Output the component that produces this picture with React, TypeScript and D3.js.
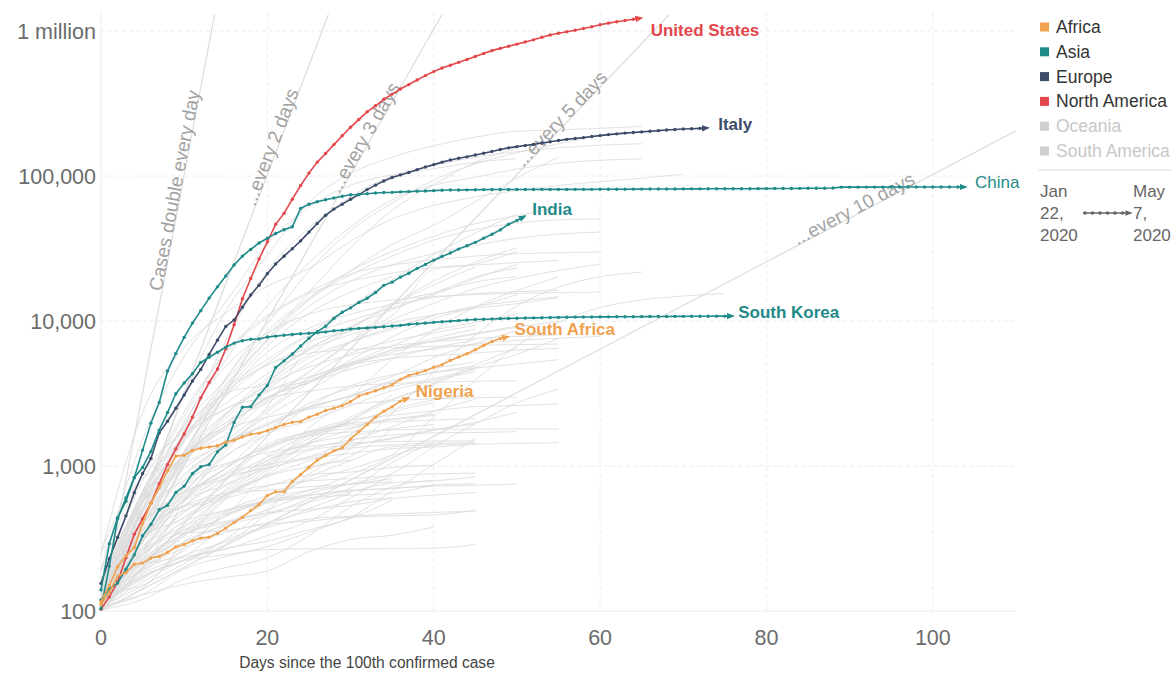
import React from 'react';
import * as d3 from 'd3';

// cumulative confirmed cases, one value per day since the 100th case
const usCases = [
  103, 125, 159, 233, 338, 433, 554, 754, 1025, 1312,
  1663, 2174, 2951, 3774, 4661, 6427, 9415, 14250, 19624, 26747,
  35206, 46442, 55231, 69194, 85991, 104686, 124665, 143025, 164620, 189618,
  216721, 245540, 277205, 304826, 337635, 367004, 397754, 427079, 459165, 492416,
  524903, 555313, 580619, 607670, 636350, 667801, 699706, 732197, 758809, 784326,
  811865, 840351, 869170, 905358, 938154, 965785, 988197, 1012582, 1039909, 1069424,
  1103461, 1132539, 1158040, 1180375, 1204351, 1228603,
];
const italyCases = [
  155, 229, 322, 453, 655, 888, 1128, 1694, 2036, 2502,
  3089, 3858, 4636, 5883, 7375, 9172, 10149, 12462, 15113, 17660,
  21157, 24747, 27980, 31506, 35713, 41035, 47021, 53578, 59138, 63927,
  69176, 74386, 80589, 86498, 92472, 97689, 101739, 105792, 110574, 115242,
  119827, 124632, 128948, 132547, 135586, 139422, 143626, 147577, 152271, 156363,
  159516, 162488, 165155, 168941, 172434, 175925, 178972, 181228, 183957, 187327,
  189973, 192994, 195351, 197675, 199414, 201505, 203591, 205463, 207428, 209328,
  210717, 211938, 213013, 214457,
];
const chinaCases = [
  140, 291, 440, 571, 830, 1287, 1975, 2744, 4515, 5974,
  7711, 9692, 11791, 14380, 17205, 20438, 24324, 28018, 31161, 34546,
  37198, 40171, 42638, 44653, 59804, 63851, 66492, 68500, 70548, 72436,
  74185, 74576, 75465, 76288, 76936, 77150, 77658, 78064, 78497, 78824,
  79251, 79824, 80026, 80151, 80270, 80409, 80552, 80651, 80695, 80735,
  80754, 80778, 80793, 80813, 80824, 80844, 80860, 80881, 80894, 80928,
  80967, 81008, 81054, 81093, 81171, 81218, 81285, 81340, 81394, 81439,
  81470, 81518, 81554, 81589, 81620, 81639, 81669, 81708, 81740, 81802,
  81865, 81907, 81953, 82052, 82160, 82249, 82295, 82341, 82692, 83760,
  83787, 83805, 83817, 83853, 83868, 83884, 83899, 83909, 83912, 83918,
  83940, 83944, 83956, 83959, 83964,
];
const indiaCases = [
  119, 142, 156, 194, 244, 330, 396, 499, 536, 657,
  727, 887, 987, 1024, 1251, 1397, 1998, 2543, 2567, 3082,
  3588, 4778, 5311, 5916, 6725, 7598, 8446, 9205, 10453, 11487,
  12322, 13430, 14352, 15722, 17615, 18539, 20080, 21370, 23077, 24530,
  26283, 27890, 29451, 31324, 33062, 34863, 37257, 39699, 42505, 46437,
  49400, 52987,
];
const southKoreaCases = [
  104, 204, 433, 602, 833, 977, 1261, 1766, 2337, 3150,
  3736, 4335, 5186, 5621, 6088, 6593, 7041, 7314, 7478, 7513,
  7755, 7869, 7979, 8086, 8162, 8236, 8320, 8413, 8565, 8652,
  8799, 8897, 8961, 9037, 9137, 9241, 9332, 9478, 9583, 9661,
  9786, 9887, 9976, 10062, 10156, 10237, 10284, 10331, 10384, 10423,
  10450, 10480, 10512, 10537, 10564, 10591, 10613, 10635, 10653, 10661,
  10674, 10683, 10694, 10702, 10708, 10718, 10728, 10738, 10752, 10761,
  10765, 10774, 10780, 10793, 10801, 10804, 10806,
];
const southAfricaCases = [
  116, 150, 202, 240, 274, 402, 554, 709, 927, 1170,
  1187, 1280, 1326, 1353, 1380, 1462, 1505, 1585, 1655, 1686,
  1749, 1845, 1934, 2003, 2028, 2173, 2272, 2415, 2506, 2605,
  2783, 3034, 3158, 3300, 3465, 3635, 3953, 4220, 4361, 4546,
  4793, 4996, 5350, 5647, 5951, 6336, 6783, 7220, 7572, 7808,
];
const nigeriaCases = [
  111, 135, 174, 184, 210, 214, 232, 238, 254, 276,
  288, 305, 318, 323, 343, 373, 407, 442, 493, 542,
  627, 665, 665, 782, 873, 981, 1095, 1182, 1273, 1337,
  1532, 1728, 1932, 2170, 2388, 2558, 2802, 2950,
];

const highlightNames = ['United States', 'Italy', 'China', 'India', 'South Korea', 'South Africa', 'Nigeria'];
const highlightRegions = ['North America', 'Europe', 'Asia', 'Asia', 'Asia', 'Africa', 'Africa'];
const highlightCases = [usCases, italyCases, chinaCases, indiaCases, southKoreaCases, southAfricaCases, nigeriaCases];

// other countries, cumulative cases sampled every 5 days since the 100th case
const otherCountryCases = [
  [120, 500, 3100, 11700, 28500, 65700, 104000, 135000, 161800, 185000, 204000, 207600, 213400, 219300],
  [130, 670, 1900, 7300, 22200, 43900, 71800, 100100, 118200, 134800, 147100, 156500, 163000, 167000],
  [100, 420, 1780, 5420, 12700, 25200, 44500, 68600, 86300, 98000, 111800, 122500, 128300, 131300],
  [116, 382, 1144, 3983, 9529, 22141, 41903, 65077, 93873, 121172, 144640, 166441, 191832],
  [191, 1529, 5698, 13531, 34109, 61049, 86306, 101790, 112261, 124375, 131744],
  [245, 2336, 6566, 11364, 17361, 23049, 35408, 50468, 62589, 71686, 79494, 85996, 91472, 96448, 103135],
  [114, 438, 1264, 3548, 7497, 15770, 32008, 57999, 87147, 124054, 155370],
  [151, 621, 1924, 3904, 8044, 14034, 22192, 33682, 45757, 66501, 97100, 135106],
  [103, 415, 1470, 4043, 8527, 14426, 22148, 30106, 38422, 46895, 53236, 60772],
  [169, 399, 1243, 3401, 7284, 13964, 20814, 28018, 36138, 42797, 47334, 49906, 50509],
  [128, 503, 1705, 3631, 7431, 12595, 18803, 24413, 29214, 33405, 37190, 39791, 41087],
  [117, 395, 671, 1323, 2561, 6848, 12491, 19250, 28699, 40459, 54817],
  [114, 652, 2200, 6113, 10897, 15922, 21100, 24308, 26336, 28063, 29061, 29586, 29905],
  [155, 789, 1823, 3163, 3747, 7161, 8450, 10850, 22719, 24675, 30298],
  [112, 642, 2362, 5962, 10524, 15472, 18841, 21379, 23392, 24322, 25282, 26182],
  [103, 511, 1203, 1885, 2932, 4462, 7142, 12772, 18811, 25459, 31938],
  [161, 620, 1167, 1639, 2806, 4435, 7206, 10151, 13216, 16755, 19621, 22317, 24623],
  [118, 475, 1094, 2143, 3844, 5847, 8772, 12872, 17799, 23471],
  [187, 875, 1717, 2708, 4322, 6383, 9216, 11940, 15525, 20084, 23214],
  [156, 632, 1610, 3031, 5116, 7917, 10088, 12306, 15135, 19663, 24581],
  [106, 150, 212, 313, 509, 879, 1309, 2299, 4427, 8014, 12693, 17101, 20198, 21707],
  [152, 562, 1486, 3281, 6723, 11289, 15828, 20168],
  [109, 324, 1238, 3035, 6092, 8904, 11145, 12982, 14498, 15443, 15946, 16268],
  [262, 439, 526, 634, 949, 1832, 2979, 5448, 8525, 12564, 16191, 20201],
  [104, 504, 2013, 4875, 8291, 11129, 12942, 13945, 14749, 15225, 15531, 15684, 15833],
  [105, 144, 274, 455, 568, 675, 868, 1193, 2178, 3906, 6748, 9787, 12368, 13965, 14877, 15477],
  [113, 198, 570, 1264, 2359, 3736, 5365, 7755, 10349, 12481, 15192],
  [103, 425, 1221, 2311, 3627, 5575, 7202, 8742, 10892, 12640, 13693, 14740],
  [117, 514, 1155, 1986, 2738, 3842, 5136, 6760, 8607, 9771, 11192],
  [164, 482, 1572, 3382, 5416, 8238, 12425],
  [111, 307, 707, 1546, 3246, 3870, 4932, 6087, 7294, 8212, 9223],
  [123, 308, 1029, 2245, 4057, 6300, 8067, 9710, 11036, 12240, 13163, 14499],
  [113, 356, 1072, 1892, 3372, 5106, 7170, 9009, 10861],
  [112, 581, 1109, 1828, 2967, 3755, 5044, 6293, 7578, 8807],
  [264, 827, 1057, 1450, 2201, 3290, 4875, 6318, 7242, 8108, 9049, 9938],
  [103, 303, 785, 1476, 2447, 4054, 5994, 7276, 8275, 9362],
  [102, 306, 608, 1161, 1780, 2709, 3439, 4149, 5597, 7006, 8613],
  [108, 598, 1256, 1877, 2916, 4012, 5147, 5865, 6409, 6937, 7338, 7599, 7847],
  [116, 383, 1120, 2279, 3589, 4822, 5831, 6746, 7187, 7579, 7819, 8031],
  [137, 558, 1181, 1988, 2974, 3751, 4658, 5538, 6532, 7387],
  [107, 298, 1073, 3143, 4976, 5998, 6359, 6547, 6694, 6801, 6875, 6929],
  [129, 428, 1518, 2470, 3333, 4119, 4987, 5532, 5780, 6002, 6298, 6467],
  [109, 210, 327, 609, 985, 1450, 2065, 2844, 3659, 4782, 5895, 7588],
  [155, 400, 880, 1384, 1927, 2487, 3064, 3868, 4395, 4740, 5051, 5412],
  [115, 275, 654, 1184, 1661, 2564, 3568, 4252, 4729, 5219],
  [128, 502, 966, 1451, 1975, 2571, 3031, 3780, 4428, 4887],
  [139, 367, 847, 1423, 1914, 2534, 3007, 3517, 4006, 4648],
  [104, 159, 225, 289, 479, 993, 1658, 2614, 3740, 4983, 6567],
  [141, 214, 378, 636, 1042, 1550, 2074, 3091],
  [110, 237, 484, 665, 1092, 1463, 2171, 2894, 3563],
  [103, 261, 585, 895, 1310, 1652, 1984, 2443, 2863, 3111],
  [114, 411, 1136, 1771, 2169, 2473, 2672, 2811, 2907, 2954, 2988],
  [117, 331, 624, 966, 1415, 1735, 2081, 2235, 2401, 2566, 2612, 2678],
  [110, 192, 346, 630, 878, 1279, 1400, 1539, 1763, 2003, 2346],
  [139, 306, 650, 820, 1017, 1621, 1832, 2104, 2265],
  [101, 190, 261, 480, 626, 801, 952, 1183, 1398],
  [105, 130, 195, 237, 278, 350, 442, 671, 1024, 1551],
  [114, 312, 495, 596, 726, 866, 909, 975, 1013],
  [104, 227, 520, 813, 1349, 1716, 1958, 2086, 2233],
  [141, 275, 480, 730, 962, 1124, 1220, 1317, 1353, 1408, 1434, 1448],
  [102, 451, 797, 1039, 1239, 1366, 1445, 1474, 1487, 1489],
  [103, 250, 588, 963, 1364, 1616, 1711, 1771, 1795, 1797, 1799, 1801],
  [171, 306, 575, 745, 1097, 1304, 1512, 1635, 1694, 1703, 1725],
  [105, 358, 537, 880, 1026, 1149, 1326, 1398, 1438, 1444],
  [105, 306, 713, 1011, 1343, 1704, 1908, 2016, 2076, 2112],
  [107, 183, 300, 400, 565, 950, 1167, 1802],
  [110, 222, 298, 392, 457, 591, 702, 1055, 1461],
  [110, 172, 225, 270, 303, 363, 435, 582],
  [102, 120, 166, 199, 233, 330, 523, 718, 797],
  [112, 246, 345, 358, 397, 417, 444, 453, 460, 496],
  [120, 248, 412, 494, 582, 630, 673, 704, 725, 737, 750],
  [110, 217, 338, 406, 473, 502, 535, 596, 630, 657],
  [113, 174, 222, 245, 265, 268, 268, 270, 271, 288],
  [113, 201, 347, 467, 558, 626, 681, 697, 739, 755],
  [106, 129, 153, 171, 189, 256, 311, 333, 379],
  [110, 196, 272, 348, 408, 486, 566, 604],
  [104, 212, 361, 416, 475, 562, 663, 766, 789, 842],
  [116, 262, 446, 633, 735, 790, 817, 857, 883, 891],
  [107, 167, 241, 299, 378, 431, 450, 467, 478, 489],
  [120, 342, 529, 648, 681, 719, 750, 781],
  [146, 261, 384, 497, 565, 606, 629, 649, 744],
  [105, 171, 224, 309, 389, 508, 650],
  [109, 180, 235, 267, 332, 416, 604, 872],
  [121, 319, 438, 688, 1163, 1650, 2009],
  [135, 150, 298, 591, 846, 986, 1097],
  [111, 228, 339, 449, 590, 682, 746, 818],
  [109, 192, 331, 457, 910, 1410, 1790, 2348, 2735],
  [195, 214, 241, 392, 499, 643, 756, 887, 1361, 1950, 2723, 3383],
  [160, 407, 663, 853, 967, 1159, 1473, 1867, 2386, 2884],
  [109, 263, 591, 965, 1662, 2049, 2614, 3304, 3897, 4476],
  [122, 298, 584, 822, 1148, 1436, 1617, 1804, 1932],
  [126, 240, 420, 624, 858, 1083, 1368, 1565, 1781, 1950],
  [140, 670, 1605, 2487, 2970, 3281, 3558, 3711, 3784, 3840, 3871],
  [123, 226, 363, 485, 581, 835, 1089, 1360, 1396, 1429],
  [129, 557, 1564, 3235, 4994, 6574, 8928, 13271, 15652, 18561, 20253],
];
const sampleStep = 5;

const doublingPeriods = [1, 2, 3, 5, 10];
const doublingLabels = ['Cases double every day', '...every 2 days', '...every 3 days', '...every 5 days', '...every 10 days'];
const doublingLabelEndDays = [11.9, 23.8, 36, 61, 98];

const yTicks = [100, 1000, 10000, 100000, 1000000];
const yTickLabels = ['100', '1,000', '10,000', '100,000', '1 million'];
const xTicks = [0, 20, 40, 60, 80, 100];

const regions = ['Africa', 'Asia', 'Europe', 'North America', 'Oceania', 'South America'];
const regionColors = ['#f0a24f', '#1f8b89', '#3c4b68', '#e3464b', '#cfcfcf', '#cfcfcf'];
const regionTextColors = ['#333', '#333', '#333', '#333', '#c8c8c8', '#c8c8c8'];

// label offsets (px) relative to the last point
const labelDx = [9, 10, 9, 7, 5, 6, 7];
const labelDy = [12, -4, -5, -7, -4, -8, -7];
const labelWeight = ['bold', 'bold', 'normal', 'bold', 'bold', 'bold', 'bold'];

const font = '"Liberation Sans", Arial, sans-serif';

export default function App() {
  const x = d3.scaleLinear().domain([0, 110]).range([101, 1016]);
  const y = d3.scaleLog().domain([100, 1000000]).range([611, 31]);
  const top = 12;

  const colorOf = (region: string) => regionColors[regions.indexOf(region)];

  const grayLine = d3.line<number>()
    .x((_, i) => x(i * sampleStep))
    .y(d => y(d))
    .curve(d3.curveMonotoneX);

  const dailyLine = d3.line<number>()
    .x((_, i) => x(i))
    .y(d => y(d));

  const doublingEnd = (p: number) => Math.min(110, p * Math.log2(1300000 / 100));

  return (
    <svg width={1176} height={677} style={{ display: 'block', position: 'absolute', left: 0, top: 0, fontFamily: font }}>
      <defs>
        <clipPath id="plotClip">
          <rect x={x(0) - 6} y={top} width={x(110) - x(0) + 6} height={y(100) - top + 6} />
        </clipPath>
        {highlightNames.map((name, i) => (
          <marker key={name} id={`arrow-${i}`} viewBox="0 -5 10 10" refX={8} refY={0}
            markerWidth={8} markerHeight={8} markerUnits="userSpaceOnUse" orient="auto">
            <path d="M0,-4L10,0L0,4Z" fill={colorOf(highlightRegions[i])} />
          </marker>
        ))}
        <marker id="arrow-legend" viewBox="0 -5 10 10" refX={8} refY={0}
          markerWidth={7} markerHeight={7} markerUnits="userSpaceOnUse" orient="auto">
          <path d="M0,-4L10,0L0,4Z" fill="#666" />
        </marker>
      </defs>

      {/* grid */}
      {yTicks.map(t => (
        <line key={t} x1={x(0)} x2={x(110)} y1={y(t)} y2={y(t)} stroke="#ececec" strokeWidth={1} strokeDasharray={t === 100 ? undefined : '4,3'} />
      ))}
      {xTicks.map(t => (
        <line key={t} x1={x(t)} x2={x(t)} y1={top} y2={y(100)} stroke="#ececec" strokeWidth={1} strokeDasharray={t === 0 ? undefined : '4,3'} />
      ))}

      {/* tick labels */}
      {yTicks.map((t, i) => (
        <text key={t} x={96} y={y(t) + 7.5} textAnchor="end" fontSize={21.5} fill="#6b6b6b">{yTickLabels[i]}</text>
      ))}
      {xTicks.map(t => (
        <text key={t} x={x(t)} y={645} textAnchor="middle" fontSize={21.5} fill="#6b6b6b">{t}</text>
      ))}
      <text x={367} y={668} textAnchor="middle" fontSize={15.6} fill="#444">Days since the 100th confirmed case</text>

      <g clipPath="url(#plotClip)">
        {/* other countries */}
        {otherCountryCases.map((vals, i) => (
          <path key={i} d={grayLine(vals) || ''} fill="none" stroke="#dcdcdc" strokeWidth={1} strokeOpacity={0.85} />
        ))}

        {/* doubling reference lines */}
        {doublingPeriods.map(p => {
          const tEnd = doublingEnd(p);
          return (
            <line key={p} x1={x(0)} y1={y(100)} x2={x(tEnd)} y2={y(100 * Math.pow(2, tEnd / p))}
              stroke="#dcdcdc" strokeWidth={1.2} />
          );
        })}
      </g>

      {doublingPeriods.map((p, i) => {
        const t = doublingLabelEndDays[i];
        const px = x(t);
        const py = y(100 * Math.pow(2, t / p));
        const ang = Math.atan2(y(100 * Math.pow(2, 1 / p)) - y(100), x(1) - x(0)) * 180 / Math.PI;
        return (
          <text key={p} transform={`translate(${px},${py}) rotate(${ang})`} dy={0} textAnchor="end"
            fontSize={19} fill="#a3a3a3">{doublingLabels[i]}</text>
        );
      })}

      {/* highlighted countries */}
      {highlightCases.map((vals, i) => {
        const c = colorOf(highlightRegions[i]);
        return (
          <g key={highlightNames[i]}>
            <path d={dailyLine(vals) || ''} fill="none" stroke={c} strokeWidth={1.6} markerEnd={`url(#arrow-${i})`} />
            {vals.slice(0, -1).map((v, j) => (
              <circle key={j} cx={x(j)} cy={y(v)} r={1.7} fill={c} />
            ))}
          </g>
        );
      })}
      {highlightCases.map((vals, i) => {
        const last = vals.length - 1;
        return (
          <text key={highlightNames[i]} x={x(last) + labelDx[i]} y={y(vals[last]) + labelDy[i] + 6}
            fontSize={17} fontWeight={labelWeight[i]} fill={colorOf(highlightRegions[i])}>
            {highlightNames[i]}
          </text>
        );
      })}

      {/* legend */}
      {regions.map((r, i) => (
        <g key={r} transform={`translate(1040, ${27 + i * 24.8})`}>
          <rect x={0} y={-4.5} width={9} height={9} fill={regionColors[i]} />
          <text x={16} y={6} fontSize={17.5} fill={regionTextColors[i]}>{r}</text>
        </g>
      ))}
      <line x1={1038} x2={1172} y1={170} y2={170} stroke="#dcdcdc" strokeWidth={1} />
      <g fontSize={17} fill="#666">
        <text x={1040} y={197}>Jan</text>
        <text x={1040} y={219}>22,</text>
        <text x={1040} y={241}>2020</text>
        <text x={1133} y={197}>May</text>
        <text x={1133} y={219}>7,</text>
        <text x={1133} y={241}>2020</text>
      </g>
      <line x1={1083} x2={1131} y1={213} y2={213} stroke="#666" strokeWidth={1.3} markerEnd="url(#arrow-legend)" />
      {[0, 1, 2, 3, 4, 5].map(k => (
        <circle key={k} cx={1085 + k * 7.5} cy={213} r={1.8} fill="#666" />
      ))}
    </svg>
  );
}
